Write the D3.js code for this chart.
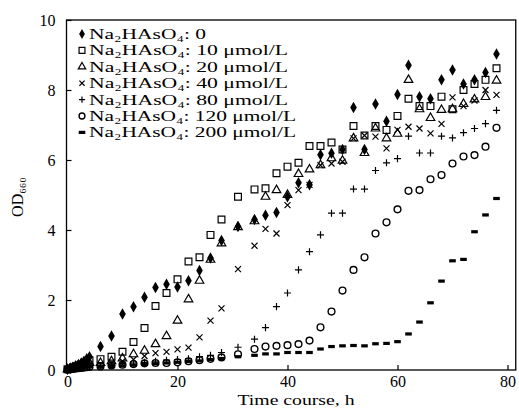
<!DOCTYPE html>
<html><head><meta charset="utf-8">
<script src="https://cdn.jsdelivr.net/npm/d3@7"></script>
<style>
html,body{margin:0;padding:0;background:#fff;}
svg{display:block;}
</style></head>
<body>
<svg id="chart" width="519" height="416"></svg>
<script>
// ---------- data ----------
const times = [0,0.5,1,1.5,2,2.5,3,3.5,4,
  6,8,10,12,14,16,18,20,22,24,26,28,31,34,
  36,38,40,42,44,46,48,50,52,54,56,58,60,62,64,66,68,70,72,74,76,78];

const conc0 = [0.02,0.05,0.08,0.12,0.16,0.2,0.25,0.32,0.38,
  0.67,0.97,1.6,1.81,2.08,2.36,2.45,2.37,2.55,2.84,3.2,3.7,4.1,4.3,
  4.42,4.5,4.95,5.35,5.29,6.15,6.19,6.3,7.5,6.3,7.6,7.11,7.87,8.71,7.81,7.75,8.29,8.57,8.17,8.29,8.5,9.03];
const conc10 = [0.02,0.04,0.07,0.1,0.13,0.16,0.2,0.24,0.28,
  0.31,0.38,0.52,0.8,1.2,1.83,2.2,2.59,3.1,3.22,3.86,4.3,4.95,5.16,
  5.19,5.62,5.81,5.92,6.4,6.4,6.5,6.3,6.97,6.7,6.97,6.86,7.26,7.75,7.54,7.54,7.81,7.45,8.0,8.17,8.29,8.62];
const conc20 = [0.02,0.04,0.06,0.08,0.1,0.12,0.15,0.18,0.2,
  0.2,0.25,0.33,0.45,0.55,0.74,0.97,1.41,2.02,2.55,3.15,3.62,4.08,4.25,
  4.95,5.14,5.0,5.6,5.73,5.85,6.05,5.98,6.62,6.2,6.9,6.62,6.75,8.29,7.45,7.2,7.43,7.45,7.6,7.73,7.8,8.27];
const conc40 = [0.02,0.03,0.05,0.07,0.09,0.11,0.13,0.15,0.17,
  0.15,0.2,0.25,0.3,0.4,0.48,0.52,0.59,0.64,0.93,1.41,1.76,2.88,3.55,
  4.03,3.9,4.71,5.14,5.29,5.85,5.9,5.95,6.62,6.7,6.67,6.33,6.86,6.95,6.9,6.76,7.03,7.79,7.54,7.7,8.0,7.86];
const conc80 = [0.01,0.02,0.04,0.05,0.07,0.08,0.1,0.11,0.12,
  0.12,0.14,0.18,0.2,0.22,0.25,0.28,0.3,0.32,0.38,0.42,0.5,0.65,0.88,
  1.21,1.81,2.2,2.86,3.38,3.86,4.48,4.48,5.17,5.17,5.7,5.92,6.04,6.68,6.2,6.2,6.68,6.63,6.78,6.9,7.04,7.42];
const conc120 = [0.01,0.02,0.03,0.04,0.05,0.06,0.07,0.08,0.09,
  0.1,0.13,0.15,0.17,0.19,0.2,0.2,0.22,0.25,0.28,0.32,0.36,0.45,0.6,
  0.67,0.69,0.71,0.74,0.84,1.22,1.67,2.27,2.86,3.22,3.9,4.22,4.59,5.12,5.14,5.45,5.57,5.9,6.1,6.14,6.38,6.92];
const conc200 = [0.01,0.02,0.03,0.04,0.05,0.06,0.07,0.08,0.09,
  0.08,0.1,0.12,0.14,0.16,0.18,0.2,0.22,0.24,0.26,0.3,0.33,0.38,0.42,
  0.46,0.46,0.5,0.5,0.5,0.6,0.67,0.69,0.7,0.69,0.75,0.76,0.81,1.03,1.37,1.92,2.54,3.12,3.16,3.95,4.43,4.9];

const seriesLabels = ["Na₂HAsO₄: 0", "Na₂HAsO₄: 10 μmol/L", "Na₂HAsO₄: 20 μmol/L", "Na₂HAsO₄: 40 μmol/L",
  "Na₂HAsO₄: 80 μmol/L", "Na₂HAsO₄: 120 μmol/L", "Na₂HAsO₄: 200 μmol/L"];
const seriesValues = [conc0, conc10, conc20, conc40, conc80, conc120, conc200];
const xTicks = [0, 20, 40, 60, 80];
const yTicks = [0, 2, 4, 6, 8, 10];

// ---------- layout ----------
const FONT = "'Liberation Serif', Tinos, 'Times New Roman', Times, 'Nimbus Roman', 'Noto Serif', 'DejaVu Serif Condensed', 'DejaVu Serif', serif";
const svg = d3.select("#chart");
const x = d3.scaleLinear().domain([0, 81.5]).range([67.5, 515.75]);
const y = d3.scaleLinear().domain([0, 10]).range([370, 20]);

const symTimes = { draw(ctx, size) { const r = Math.sqrt(size) / 2;
  ctx.moveTo(-r, -r); ctx.lineTo(r, r); ctx.moveTo(r, -r); ctx.lineTo(-r, r); } };
const symPlus = { draw(ctx, size) { const r = Math.sqrt(size) / 2;
  ctx.moveTo(-r, 0); ctx.lineTo(r, 0); ctx.moveTo(0, -r); ctx.lineTo(0, r); } };
const symDash = { draw(ctx, size) { const w = 3.3, h = 1.6;
  ctx.moveTo(-w, -h); ctx.lineTo(w, -h); ctx.lineTo(w, h); ctx.lineTo(-w, h); ctx.closePath(); } };

const markers = [
  { type: d3.symbolDiamond, size: 38, fill: "#000", stroke: "none", sw: 0 },
  { type: d3.symbolSquare, size: 46, fill: "none", stroke: "#000", sw: 1.2 },
  { type: d3.symbolTriangle, size: 32, fill: "none", stroke: "#000", sw: 1.2 },
  { type: symTimes, size: 36, fill: "none", stroke: "#000", sw: 1.2 },
  { type: symPlus, size: 50, fill: "none", stroke: "#000", sw: 1.2 },
  { type: d3.symbolCircle, size: 36, fill: "none", stroke: "#000", sw: 1.4 },
  { type: symDash, size: 20, fill: "#000", stroke: "none", sw: 0 }
];

// frame
const x0 = 66.5, x1 = 515.75;
svg.append("rect").attr("x", x0).attr("y", y(10)).attr("width", x1 - x0).attr("height", y(0) - y(10))
  .attr("fill", "none").attr("stroke", "#000").attr("stroke-width", 1.3);

// axes
const xAxis = d3.axisBottom(x).tickValues(xTicks).tickSize(-5).tickPadding(6).tickFormat(d3.format("d"));
const gx = svg.append("g").attr("transform", `translate(0,${y(0)})`).call(xAxis);
gx.select(".domain").remove();
const yAxis = d3.axisLeft(y).tickValues(yTicks).tickSize(-5).tickPadding(11).tickFormat(d3.format("d"));
const gy = svg.append("g").attr("transform", `translate(${x0},0)`).call(yAxis);
gy.select(".domain").remove();
svg.selectAll(".tick line").attr("stroke", "#000").attr("stroke-width", 1.2);
svg.selectAll(".tick text").attr("font-size", 16).attr("fill", "#000");

// points
seriesValues.forEach((vals, i) => {
  const m = markers[i];
  const sym = d3.symbol().type(m.type).size(m.size);
  svg.append("g").selectAll("path").data(vals.map((v, k) => [times[k], v])).join("path")
    .attr("transform", d => `translate(${x(d[0])},${y(d[1])})`)
    .attr("d", sym)
    .attr("fill", m.fill).attr("stroke", m.stroke).attr("stroke-width", m.sw);
});

// legend
const legendWidths = [117, 199, 199, 199, 199, 207, 207];
const leg = svg.append("g");
seriesLabels.forEach((lab, i) => {
  const yy = 34 + i * 16.4;
  const m = markers[i];
  leg.append("path").attr("transform", `translate(82,${yy})`)
    .attr("d", d3.symbol().type(m.type).size(m.size * 0.75))
    .attr("fill", m.fill).attr("stroke", m.stroke).attr("stroke-width", m.sw);
  leg.append("text").attr("x", 89).attr("y", yy + 5).attr("font-size", 14)
    .attr("textLength", legendWidths[i]).attr("lengthAdjust", "spacingAndGlyphs")
    .text(lab);
});

// axis titles
svg.append("text").attr("x", 296).attr("y", 405).attr("text-anchor", "middle")
  .attr("font-size", 15).attr("textLength", 117).attr("lengthAdjust", "spacingAndGlyphs")
  .text("Time course, h");
svg.append("text").attr("transform", "translate(23,197) rotate(-90)")
  .attr("text-anchor", "middle").attr("font-size", 16).text("OD₆₆₀");

svg.selectAll("text").style("font-family", FONT).style("fill", "#000");
</script>
</body></html>
